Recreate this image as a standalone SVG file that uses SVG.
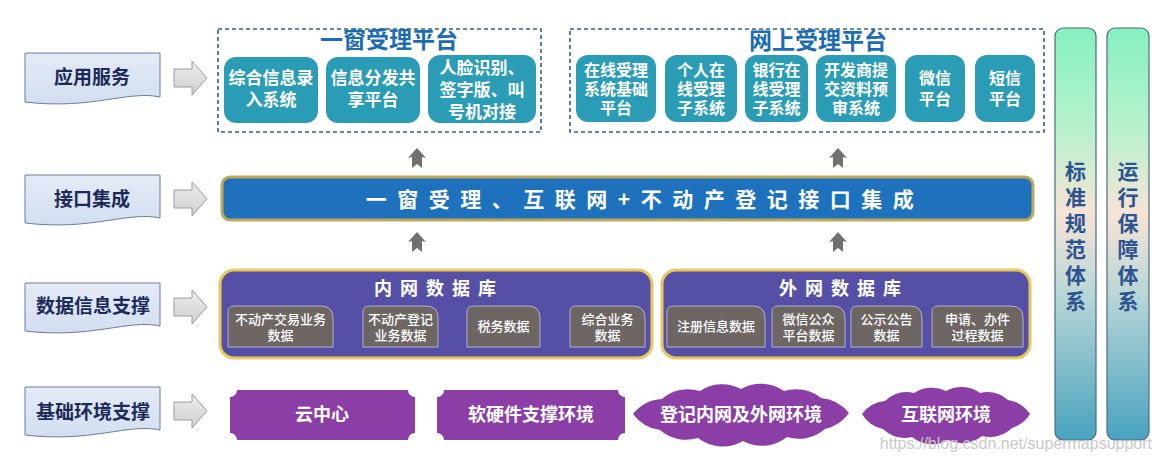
<svg xmlns="http://www.w3.org/2000/svg" width="1158" height="460" viewBox="0 0 1158 460">
<defs>
<linearGradient id="colg" x1="0" y1="0" x2="0" y2="1">
<stop offset="0" stop-color="#86f0c0"/>
<stop offset="0.25" stop-color="#b8f2cc"/>
<stop offset="0.45" stop-color="#f7e3d6"/>
<stop offset="0.65" stop-color="#b7d6d6"/>
<stop offset="1" stop-color="#48a3bf"/>
</linearGradient>
<linearGradient id="arrg" x1="0" y1="0" x2="0" y2="1">
<stop offset="0" stop-color="#ececec"/>
<stop offset="1" stop-color="#cfcfcf"/>
</linearGradient>
<linearGradient id="lblg" x1="0" y1="0" x2="0" y2="1">
<stop offset="0" stop-color="#e4ebf6"/>
<stop offset="1" stop-color="#d2def0"/>
</linearGradient>
</defs>
<style>
.cjk{font-family:"Noto Sans CJK SC","Noto Sans",sans-serif;}
.lbl{fill:url(#lblg);stroke:#6a7e98;stroke-width:1;}
.lbt{font-size:19px;font-weight:700;fill:#1b2a58;text-anchor:middle;}
.rarr{fill:url(#arrg);stroke:#9c9c9c;stroke-width:1;}
.uarr{fill:#707070;}
.dash{fill:none;stroke:#2e6479;stroke-width:1.6;stroke-dasharray:4 3;}
.ttl{font-size:23px;font-weight:700;fill:#1c6cb5;text-anchor:middle;}
.teal{fill:#2a9cb6;}
.tt{font-size:17px;font-weight:700;fill:#ffffff;text-anchor:middle;}
.tt2{font-size:16px;font-weight:700;fill:#ffffff;text-anchor:middle;}
.bar{fill:#1e72bd;stroke:#bfa758;stroke-width:3;}
.bart{font-size:21px;font-weight:700;fill:#ffffff;text-anchor:middle;letter-spacing:10.5px;}
.db{fill:#5550a6;stroke:#e8c85c;stroke-width:3;}
.dbt{font-size:18px;font-weight:700;fill:#ffffff;text-anchor:middle;letter-spacing:8px;}
.sub{fill:#6d6663;stroke:#b2b0d4;stroke-width:1;}
.st{font-size:13px;font-weight:500;fill:#ffffff;text-anchor:middle;}
.pur{fill:#8a3ea6;}
.pt{font-size:18px;font-weight:700;fill:#ffffff;text-anchor:middle;}
.col{fill:url(#colg);stroke:#4b6b82;stroke-width:1.2;}
.ct{font-size:21px;font-weight:700;fill:#2d5390;text-anchor:middle;}
.wm{font-family:"Liberation Sans",Arial,sans-serif;font-size:16px;fill:#c9c9c9;text-anchor:end;}
</style>

<g id="connectors">
<polygon class="rarr" points="174,69 192,69 192,61 207,78 192,95 192,87 174,87"/>
<polygon class="rarr" points="174,190 192,190 192,182 207,199 192,216 192,208 174,208"/>
<polygon class="rarr" points="174,298 192,298 192,290 207,307 192,324 192,316 174,316"/>
<polygon class="rarr" points="174,402 192,402 192,394 207,411 192,428 192,420 174,420"/>
<polygon class="uarr" points="417,148 426,158 422,157 422,168 417,164 412,168 412,157 408,158"/>
<polygon class="uarr" points="838,148 847,158 843,157 843,168 838,164 833,168 833,157 829,158"/>
<polygon class="uarr" points="417,232 426,242 422,241 422,252 417,248 412,252 412,241 408,242"/>
<polygon class="uarr" points="838,232 847,242 843,241 843,252 838,248 833,252 833,241 829,242"/>
</g>

<g id="label-yyfw">
<path class="lbl" d="M25,53 H160 V97 C128,90 92,110 25,102 Z"/>
<text class="cjk lbt" x="92" y="84">应用服务</text>
</g>
<g id="label-jkjc">
<path class="lbl" d="M25,175 H160 V218 C128,211 92,231 25,223 Z"/>
<text class="cjk lbt" x="92" y="206">接口集成</text>
</g>
<g id="label-sjxx">
<path class="lbl" d="M25,283 H160 V326 C128,319 92,339 25,331 Z"/>
<text class="cjk lbt" x="93" y="313">数据信息支撑</text>
</g>
<g id="label-jchj">
<path class="lbl" d="M25,387 H160 V430 C128,423 92,443 25,435 Z"/>
<text class="cjk lbt" x="93" y="419">基础环境支撑</text>
</g>

<g id="yichuang-platform">
<rect class="dash" x="218" y="29" width="323" height="103"/>
<text class="cjk ttl" x="389" y="48">一窗受理平台</text>
<g id="yc-1"><rect class="teal" x="224" y="57" width="94" height="66" rx="12"/>
<text class="cjk tt" x="271" y="84">综合信息录</text><text class="cjk tt" x="271" y="106">入系统</text></g>
<g id="yc-2"><rect class="teal" x="326" y="57" width="94" height="66" rx="12"/>
<text class="cjk tt" x="373" y="84">信息分发共</text><text class="cjk tt" x="373" y="106">享平台</text></g>
<g id="yc-3"><rect class="teal" x="428" y="55" width="108" height="68" rx="12"/>
<text class="cjk tt" x="482" y="74">人脸识别、</text><text class="cjk tt" x="482" y="96">签字版、叫</text><text class="cjk tt" x="482" y="118">号机对接</text></g>
</g>

<g id="online-platform">
<rect class="dash" x="570" y="29" width="474" height="103"/>
<text class="cjk ttl" x="818" y="49">网上受理平台</text>
<g id="ws-1"><rect class="teal" x="576" y="55" width="80" height="67" rx="12"/>
<text class="cjk tt2" x="616" y="76">在线受理</text><text class="cjk tt2" x="616" y="95">系统基础</text><text class="cjk tt2" x="616" y="114">平台</text></g>
<g id="ws-2"><rect class="teal" x="665" y="55" width="72" height="67" rx="12"/>
<text class="cjk tt2" x="701" y="76">个人在</text><text class="cjk tt2" x="701" y="95">线受理</text><text class="cjk tt2" x="701" y="114">子系统</text></g>
<g id="ws-3"><rect class="teal" x="745" y="55" width="63" height="67" rx="12"/>
<text class="cjk tt2" x="776.5" y="76">银行在</text><text class="cjk tt2" x="776.5" y="95">线受理</text><text class="cjk tt2" x="776.5" y="114">子系统</text></g>
<g id="ws-4"><rect class="teal" x="816" y="55" width="80" height="67" rx="12"/>
<text class="cjk tt2" x="856" y="76">开发商提</text><text class="cjk tt2" x="856" y="95">交资料预</text><text class="cjk tt2" x="856" y="114">审系统</text></g>
<g id="ws-5"><rect class="teal" x="905" y="55" width="60" height="67" rx="12"/>
<text class="cjk tt2" x="935" y="84">微信</text><text class="cjk tt2" x="935" y="105">平台</text></g>
<g id="ws-6"><rect class="teal" x="975" y="55" width="60" height="67" rx="12"/>
<text class="cjk tt2" x="1005" y="84">短信</text><text class="cjk tt2" x="1005" y="105">平台</text></g>
</g>

<g id="interface-bar">
<rect class="bar" x="222" y="177" width="811" height="43" rx="8"/>
<text class="cjk bart" x="645" y="207">一窗受理、互联网+不动产登记接口集成</text>
</g>

<g id="intranet-db">
<rect class="db" x="220" y="270" width="432" height="88" rx="14"/>
<text class="cjk dbt" x="439" y="295">内网数据库</text>
<g id="in-1"><path class="sub" d="M228,347 V312 Q228,306 234,306 H321 Q333,306 333,318 V347 Z"/>
<text class="cjk st" x="280.5" y="324">不动产交易业务</text><text class="cjk st" x="280.5" y="340">数据</text></g>
<g id="in-2"><path class="sub" d="M363,347 V312 Q363,306 369,306 H426 Q438,306 438,318 V347 Z"/>
<text class="cjk st" x="400.5" y="324">不动产登记</text><text class="cjk st" x="400.5" y="340">业务数据</text></g>
<g id="in-3"><path class="sub" d="M467,347 V312 Q467,306 473,306 H528 Q540,306 540,318 V347 Z"/>
<text class="cjk st" x="503.5" y="331">税务数据</text></g>
<g id="in-4"><path class="sub" d="M570,347 V312 Q570,306 576,306 H633 Q645,306 645,318 V347 Z"/>
<text class="cjk st" x="607.5" y="324">综合业务</text><text class="cjk st" x="607.5" y="340">数据</text></g>
</g>

<g id="extranet-db">
<rect class="db" x="662" y="270" width="368" height="88" rx="14"/>
<text class="cjk dbt" x="844" y="295">外网数据库</text>
<g id="ex-1"><path class="sub" d="M667,347 V312 Q667,306 673,306 H753 Q765,306 765,318 V347 Z"/>
<text class="cjk st" x="716" y="331">注册信息数据</text></g>
<g id="ex-2"><path class="sub" d="M772,347 V312 Q772,306 778,306 H833 Q845,306 845,318 V347 Z"/>
<text class="cjk st" x="808.5" y="324">微信公众</text><text class="cjk st" x="808.5" y="340">平台数据</text></g>
<g id="ex-3"><path class="sub" d="M851,347 V312 Q851,306 857,306 H910 Q922,306 922,318 V347 Z"/>
<text class="cjk st" x="886.5" y="324">公示公告</text><text class="cjk st" x="886.5" y="340">数据</text></g>
<g id="ex-4"><path class="sub" d="M932,347 V312 Q932,306 938,306 H1011 Q1023,306 1023,318 V347 Z"/>
<text class="cjk st" x="977.5" y="324">申请、办件</text><text class="cjk st" x="977.5" y="340">过程数据</text></g>
</g>

<g id="env-cloud-center">
<path class="pur" d="M237,390 H408 A7,7 0 0 0 415,397 V433 A7,7 0 0 0 408,440 H237 A7,7 0 0 0 230,433 V397 A7,7 0 0 0 237,390 Z"/>
<text class="cjk pt" x="322" y="421">云中心</text>
</g>
<g id="env-hardware">
<path class="pur" d="M444,390 H618 A7,7 0 0 0 625,397 V433 A7,7 0 0 0 618,440 H444 A7,7 0 0 0 437,433 V397 A7,7 0 0 0 444,390 Z"/>
<text class="cjk pt" x="531" y="421">软硬件支撑环境</text>
</g>
<g id="env-network">
<path class="pur" d="M633,414 A40,40 0 0 1 662,399 A40,40 0 0 1 700,391 A40,40 0 0 1 741,389 A40,40 0 0 1 784,391 A40,40 0 0 1 821,398 A40,40 0 0 1 849,413 A40,40 0 0 1 825,429 A40,40 0 0 1 787,437 A40,40 0 0 1 743,441 A40,40 0 0 1 698,438 A40,40 0 0 1 660,430 A40,40 0 0 1 633,414 Z"/>
<text class="cjk pt" x="741" y="421">登记内网及外网环境</text>
</g>
<g id="env-internet">
<path class="pur" d="M862,414 A32,32 0 0 1 885,401 A32,32 0 0 1 914,393 A32,32 0 0 1 946,391 A32,32 0 0 1 980,393 A32,32 0 0 1 1008,400 A32,32 0 0 1 1030,414 A32,32 0 0 1 1012,428 A32,32 0 0 1 982,436 A32,32 0 0 1 948,440 A32,32 0 0 1 912,437 A32,32 0 0 1 883,429 A32,32 0 0 1 862,414 Z"/>
<text class="cjk pt" x="946" y="421">互联网环境</text>
</g>

<g id="col-standard">
<rect class="col" x="1055" y="28" width="41" height="412" rx="8"/>
<text class="cjk ct" x="1075.5" y="179">标</text>
<text class="cjk ct" x="1075.5" y="205">准</text>
<text class="cjk ct" x="1075.5" y="231">规</text>
<text class="cjk ct" x="1075.5" y="257">范</text>
<text class="cjk ct" x="1075.5" y="283">体</text>
<text class="cjk ct" x="1075.5" y="309">系</text>
</g>
<g id="col-operation">
<rect class="col" x="1107" y="28" width="42" height="412" rx="8"/>
<text class="cjk ct" x="1128" y="179">运</text>
<text class="cjk ct" x="1128" y="205">行</text>
<text class="cjk ct" x="1128" y="231">保</text>
<text class="cjk ct" x="1128" y="257">障</text>
<text class="cjk ct" x="1128" y="283">体</text>
<text class="cjk ct" x="1128" y="309">系</text>
</g>

<text class="wm" x="1152" y="449">https://blog.csdn.net/supermapsupport</text>
</svg>
